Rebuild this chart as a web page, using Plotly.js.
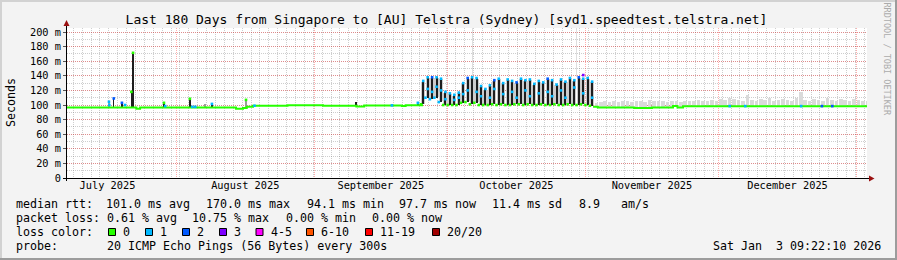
<!DOCTYPE html>
<html><head><meta charset="utf-8">
<script src="https://cdn.plot.ly/plotly-3.0.1.min.js"></script>
<style>html,body{margin:0;padding:0;background:#f3f3f3;}#chart{width:897px;height:260px;}</style>
</head><body><div id="chart"></div>
<script>
// ---------------- data ----------------
const rangeStart = "2025-07-07 09:22:10";
const rangeEnd = "2026-01-03 09:22:10";
const yTickVals = [0, 20, 40, 60, 80, 100, 120, 140, 160, 180, 200];
const yTickText = ["0", "20 m", "40 m", "60 m", "80 m", "100 m", "120 m", "140 m", "160 m", "180 m", "200 m"];

// median rtt (ms), step line; null = not drawn as line
const medianTime = ["2025-07-07 09:22:10", "2025-07-23 00:00", "2025-07-23 20:00", "2025-08-14 10:00", "2025-08-16 00:00",
  "2025-08-16 20:00", "2025-08-18 06:00", "2025-08-26 00:00", "2025-09-03 00:00", "2025-09-10 12:00", "2025-09-12 06:00",
  "2025-09-20 18:00", "2025-09-21 14:00", "2025-09-25 12:00", "2025-09-25 12:01",
  "2025-11-02 18:00", "2025-11-03 20:00", "2025-11-12 00:00", "2025-11-16 00:00", "2025-11-20 18:00", "2025-11-21 18:00",
  "2025-11-23 00:00", "2026-01-03 09:22:10"];
const medianValue = [96.5, 94.8, 96.5, 94.8, 96.0, 97.5, 99.0, 99.5, 99.0, 98.0, 99.3, 98.5, 99.5, 99.5, null,
  97.5, 96.5, 96.0, 96.5, 98.5, 96.5, 98.2, 98.2];

// isolated spikes
const spikeTime = ["2025-07-16 20:00", "2025-07-17 22:00", "2025-07-19 18:00", "2025-07-21 21:00", "2025-07-22 06:00",
  "2025-07-29 05:00", "2025-08-04 01:00", "2025-08-07 10:00", "2025-08-09 00:00", "2025-08-16 16:00",
  "2025-09-10 10:00", "2025-09-24 08:00"];
const spikeLow = [96.5, 96.5, 96.5, 96.5, 96.5, 96.5, 96.5, 96.5, 96.5, 96.0, 99.0, 99.0];
const spikeHigh = [104.5, 109, 103, 118, 171.5, 103, 108.5, 101, 101.5, 107, 103.5, 103];
const spikeTopLoss = [1, 2, 2, 0, 0, 0, 0, -1, 1, 0, -1, 1];
const spikeShade = [1, 0, 0, 0, 0, 0, 0, 1, 0, 1, 0, 0];

// daily oscillation period
const oscDay = ["2025-09-25", "2025-09-26", "2025-09-27", "2025-09-28", "2025-09-29", "2025-09-30",
  "2025-10-01", "2025-10-02", "2025-10-03", "2025-10-04", "2025-10-05", "2025-10-06", "2025-10-07", "2025-10-08",
  "2025-10-09", "2025-10-10", "2025-10-11", "2025-10-12", "2025-10-13", "2025-10-14", "2025-10-15", "2025-10-16",
  "2025-10-17", "2025-10-18", "2025-10-19", "2025-10-20", "2025-10-21", "2025-10-22", "2025-10-23", "2025-10-24",
  "2025-10-25", "2025-10-26", "2025-10-27", "2025-10-28", "2025-10-29", "2025-10-30", "2025-10-31",
  "2025-11-01", "2025-11-02"];
const oscHigh = [133, 138, 138, 138, 136, 118, 116, 114, 117, 130, 137, 138, 137, 126, 122, 127, 134, 136, 130, 135,
  133, 131, 136, 134, 135, 129, 133, 131, 136, 134, 128, 135, 132, 137, 134, 138, 136, 137, 132];
const oscLow = [101, 110, 108, 110, 104, 100, 100, 100, 100, 103, 104, 101, 103, 100, 100, 100, 101, 100, 101, 100,
  100, 101, 101, 100, 101, 100, 100, 101, 100, 100, 101, 100, 100, 101, 100, 100, 101, 100, 99];
const oscMid = [null, 122, 118, 125, 120, 108, null, 107, 110, 115, 120, null, 118, 112, null, 110, 122, null, 115, null,
  118, 110, null, 120, 112, null, 116, null, 118, 112, null, 120, 110, null, 124, null, 116, null, 110];
const oscHighLoss = [1, 1, 2, 1, 1, 1, 1, 1, 1, 1, 2, 1, 1, 1, 1, 1, 2, 1, 1, 1, 1, 2, 1, 1, 1, 1, 1, 1, 2, 1,
  1, 1, 1, 1, 1, 2, 1, 1, 1];
const oscLowLoss = [0, 1, 1, 1, 1, 0, 0, 0, 0, 0, 0, 0, 0, 0, 0, 0, 0, 0, 0, 0, 0, 0, 0, 0, 0, 0, 0, 0, 0, 0,
  0, 0, 0, 0, 0, 0, 0, 0, 0];

// single loss samples on the median line
const lossTime = ["2025-07-16 22:00", "2025-07-20 11:00", "2025-07-29 12:00", "2025-08-04 14:00", "2025-08-05 06:00",
  "2025-08-18 14:00", "2025-09-18 12:00", "2025-10-31 13:00", "2025-12-03 12:00", "2025-12-07 00:00",
  "2025-12-19 14:00", "2025-12-24 06:00", "2025-12-26 14:00"];
const lossValue = [100, 100, 98.5, 97.5, 97.5, 99, 99.5, 141, 98.5, 98.5, 98.5, 98.5, 98.5];
const lossClass = [1, 1, 1, 1, 1, 1, 1, 3, 1, 1, 1, 2, 2];

// faint smoke reaching the top
const outlierTime = ["2025-10-06 16:00", "2025-10-30 00:00"];
const outlierLow = [139, 139];
const outlierHigh = [206, 206];

// light smoke after the oscillation period
const smokeBase = 97;
const smokeDay = ["2025-11-03", "2025-11-04", "2025-11-05", "2025-11-06", "2025-11-07", "2025-11-08", "2025-11-09",
  "2025-11-10", "2025-11-11", "2025-11-12", "2025-11-13", "2025-11-14", "2025-11-15", "2025-11-16", "2025-11-17",
  "2025-11-18", "2025-11-19", "2025-11-20", "2025-11-21", "2025-11-22", "2025-11-23", "2025-11-24", "2025-11-25",
  "2025-11-26", "2025-11-27", "2025-11-28", "2025-11-29", "2025-11-30", "2025-12-01", "2025-12-02", "2025-12-03",
  "2025-12-04", "2025-12-05", "2025-12-06", "2025-12-07", "2025-12-08", "2025-12-09", "2025-12-10", "2025-12-11",
  "2025-12-12", "2025-12-13", "2025-12-14", "2025-12-15", "2025-12-16", "2025-12-17", "2025-12-18", "2025-12-19",
  "2025-12-20", "2025-12-21", "2025-12-22", "2025-12-23", "2025-12-24", "2025-12-25", "2025-12-26", "2025-12-27",
  "2025-12-28", "2025-12-29", "2025-12-30", "2025-12-31", "2026-01-01", "2026-01-02", "2026-01-03"];
const smokeHigh = [103, 104, 105, 104, 106, 104, 105, 106, 104, 105, 106, 104, 107, 105, 106, 105, 104, 106, 105, 104, 106,
  105, 106, 107, 106, 105, 107, 106, 108, 107, 109, 108, 107, 106, 114, 107, 106, 108, 107, 109, 106, 107,
  108, 107, 106, 110, 118, 107, 106, 108, 107, 106, 109, 107, 106, 108, 107, 106, 108, 107, 106, 105];

const lossLabels = ["0", "1", "2", "3", "4-5", "6-10", "11-19", "20/20"];
const lossColors = ["#26ff00", "#00b8ff", "#0059ff", "#7e00ff", "#ff00ff", "#ff5500", "#ff0000", "#a10000"];

const legendRtt = ["median rtt:", "101.0 ms avg", "170.0 ms max", "94.1 ms min", "97.7 ms now", "11.4 ms sd", "8.9", "am/s"];
const legendLoss = ["packet loss:", "0.61 % avg", "10.75 % max", "0.00 % min", "0.00 % now"];
const probeText = ["probe:", "20 ICMP Echo Pings (56 Bytes) every 300s"];
const stampText = "Sat Jan  3 09:22:10 2026";
const titleText = "Last 180 Days from Singapore to [AU] Telstra (Sydney) [syd1.speedtest.telstra.net]";

// ---------------- layout helpers ----------------
const L = 67, T = 28, W = 800, H = 150;
const px = x => (x - L) / W;
const py = y => (T + H - y) / H;
const MONO = "DejaVu Sans Mono";
const DAY = 86400000;

const traces = [];
// light smoke
traces.push({type: 'bar', x: smokeDay.map(d => d + " 12:00"), base: smokeDay.map(() => smokeBase),
  y: smokeHigh.map(v => v - smokeBase), width: smokeDay.map(() => 0.8 * DAY),
  marker: {color: '#dadada', line: {width: 0}}, hoverinfo: 'skip'});
// outlier smoke
traces.push({type: 'bar', x: outlierTime, base: outlierLow, y: outlierHigh.map((v, i) => v - outlierLow[i]),
  width: outlierTime.map(() => 0.22 * DAY), marker: {color: '#dedede', line: {width: 0}}, hoverinfo: 'skip'});
// oscillation smoke (grey) and dense part (black)
traces.push({type: 'bar', x: oscDay.map(d => d + " 13:00"), base: oscLow.map(v => v + 1),
  y: oscHigh.map((v, i) => v - oscLow[i] - 2), width: oscDay.map(() => 0.95 * DAY),
  marker: {color: '#cccccc', line: {width: 0}}, hoverinfo: 'skip'});
traces.push({type: 'bar', x: oscDay.map(d => d + " 13:00"), base: oscLow,
  y: oscHigh.map((v, i) => v - oscLow[i]), width: oscDay.map(() => 0.46 * DAY),
  marker: {color: '#1e1e1e', line: {width: 0}}, hoverinfo: 'skip'});
// spikes
traces.push({type: 'bar', x: spikeTime, base: spikeLow, y: spikeHigh.map((v, i) => v - spikeLow[i]),
  width: spikeTime.map(() => 0.32 * DAY),
  marker: {color: spikeShade.map(s => s ? '#9a9a9a' : '#1e1e1e'), line: {width: 0}}, hoverinfo: 'skip'});
// median line
traces.push({type: 'scatter', mode: 'lines', x: medianTime, y: medianValue, connectgaps: false,
  line: {color: lossColors[0], width: 2, shape: 'hv'}, hoverinfo: 'skip'});
// loss-coloured samples
const mx = [], my = [], mc = [];
spikeTime.forEach((t, i) => { if (spikeTopLoss[i] >= 0) { mx.push(t); my.push(spikeHigh[i]); mc.push(lossColors[spikeTopLoss[i]]); } });
oscDay.forEach((d, i) => {
  mx.push(d + " 01:00"); my.push(oscLow[i]); mc.push(lossColors[oscLowLoss[i]]);
  mx.push(d + " 13:00"); my.push(oscHigh[i]); mc.push(lossColors[oscHighLoss[i]]);
  if (oscMid[i] !== null) { mx.push(d + " 13:00"); my.push(oscMid[i]); mc.push(lossColors[1]); }
});
lossTime.forEach((t, i) => { mx.push(t); my.push(lossValue[i]); mc.push(lossColors[lossClass[i]]); });
traces.push({type: 'scatter', mode: 'markers', x: mx, y: my,
  marker: {symbol: 'square', size: 2.6, color: mc, line: {width: 0}}, hoverinfo: 'skip'});

// ---------------- shapes & annotations ----------------
const shapes = [];
const rectPx = (x0, y0, x1, y1, fill, lw, lc) => shapes.push({type: 'rect', xref: 'paper', yref: 'paper',
  x0: px(x0), x1: px(x1), y0: py(y1), y1: py(y0), fillcolor: fill, line: {width: lw || 0, color: lc || fill}, layer: 'above'});
const linePx = (x0, y0, x1, y1, c) => shapes.push({type: 'line', xref: 'paper', yref: 'paper',
  x0: px(x0), x1: px(x1), y0: py(y0), y1: py(y1), line: {width: 1, color: c}, layer: 'above'});
const pathPx = (pts, c) => shapes.push({type: 'path', xref: 'paper', yref: 'paper',
  path: 'M' + pts.map(p => px(p[0]) + ',' + py(p[1])).join('L') + 'Z', fillcolor: c, line: {width: 0}, layer: 'above'});
// frame
rectPx(0, 0, 897, 2, '#d2d2d2');
rectPx(0, 0, 2, 260, '#d2d2d2');
rectPx(0, 258, 897, 260, '#9c9c9c');
rectPx(895, 0, 897, 260, '#9c9c9c');
// axes
linePx(66.5, 181, 66.5, 24, '#000');
linePx(63, 178.5, 869, 178.5, '#000');
pathPx([[63.5, 26], [69.5, 26], [66.5, 20]], '#9a1010');
pathPx([[869, 175.5], [869, 181.5], [874.5, 178.5]], '#9a1010');

const annotations = [];
const txt = (s, x, y, o) => annotations.push(Object.assign({text: s.replace(/ /g, '\u00a0'), x: px(x), y: py(y),
  xref: 'paper', yref: 'paper', xanchor: 'left', yanchor: 'middle', showarrow: false, borderpad: 0, borderwidth: 0,
  font: {family: MONO, size: 11.65, color: '#000'}}, o || {}));

const rttX = [15.5, 106.0, 206.0, 306.5, 399.0, 492.0, 578.5, 621.0];
legendRtt.forEach((s, i) => txt(s, rttX[i], 204.3));
const lossX = [15.5, 106.5, 192.0, 285.9, 371.5];
legendLoss.forEach((s, i) => txt(s, lossX[i], 218.3));
txt("loss color:", 15.5, 232.3);
const boxX = [108.5, 145.5, 182.5, 219.5, 256.0, 306.5, 365.5, 432.5];
lossLabels.forEach((s, i) => {
  rectPx(boxX[i], 228.5, boxX[i] + 7, 235.5, lossColors[i], 1, '#000');
  txt(s, boxX[i] + 14.5, 232.3);
});
txt(probeText[0], 15.5, 246.3);
txt(probeText[1], 106.5, 246.3);
txt(stampText, 880.5, 246.3, {xanchor: 'right'});
txt("Seconds", 11, 102, {xanchor: 'center', textangle: -90});
txt("RRDTOOL / TOBI OETIKER", 886.5, 59, {xanchor: 'center', textangle: 90, font: {family: MONO, size: 8.5, color: '#ababab'}});

const layout = {
  width: 897, height: 260,
  margin: {l: L, r: 897 - L - W, t: T, b: 260 - T - H, pad: 0},
  paper_bgcolor: '#f3f3f3', plot_bgcolor: '#ffffff',
  showlegend: false, barmode: 'overlay', bargap: 0,
  title: {text: titleText, font: {family: MONO, size: 13, color: '#000'},
    xref: 'container', yref: 'container', x: 446.5 / 897, y: 1 - 19.5 / 260, xanchor: 'center', yanchor: 'middle'},
  xaxis: {type: 'date', range: [rangeStart, rangeEnd], fixedrange: true,
    dtick: 'M1', tick0: '2025-07-01', ticklabelmode: 'period', tickformat: '%B %Y',
    tickfont: {family: MONO, size: 10.3, color: '#000'}, ticks: '',
    showgrid: true, gridcolor: 'rgba(255,0,0,0.32)', griddash: '1px,1px', gridwidth: 1,
    minor: {dtick: 2 * DAY, tick0: '2025-07-08 19:30', showgrid: true, gridcolor: 'rgba(102,102,102,0.32)', griddash: '1px,1px', gridwidth: 1, ticks: ''},
    showline: false, zeroline: false},
  yaxis: {range: [0, 205.5], fixedrange: true, tickmode: 'array', tickvals: yTickVals, ticktext: yTickText,
    tickfont: {family: MONO, size: 10.3, color: '#000'}, ticks: 'outside', ticklen: 3, tickcolor: '#555',
    showgrid: true, gridcolor: 'rgba(255,0,0,0.32)', griddash: '1px,1px', gridwidth: 1,
    minor: {tickmode: 'linear', tick0: 0, dtick: 10, showgrid: true, gridcolor: 'rgba(102,102,102,0.32)', griddash: '1px,1px', gridwidth: 1, ticks: ''},
    showline: false, zeroline: false},
  shapes: shapes, annotations: annotations
};
Plotly.newPlot('chart', traces, layout, {staticPlot: true, displayModeBar: false});
</script></body></html>
